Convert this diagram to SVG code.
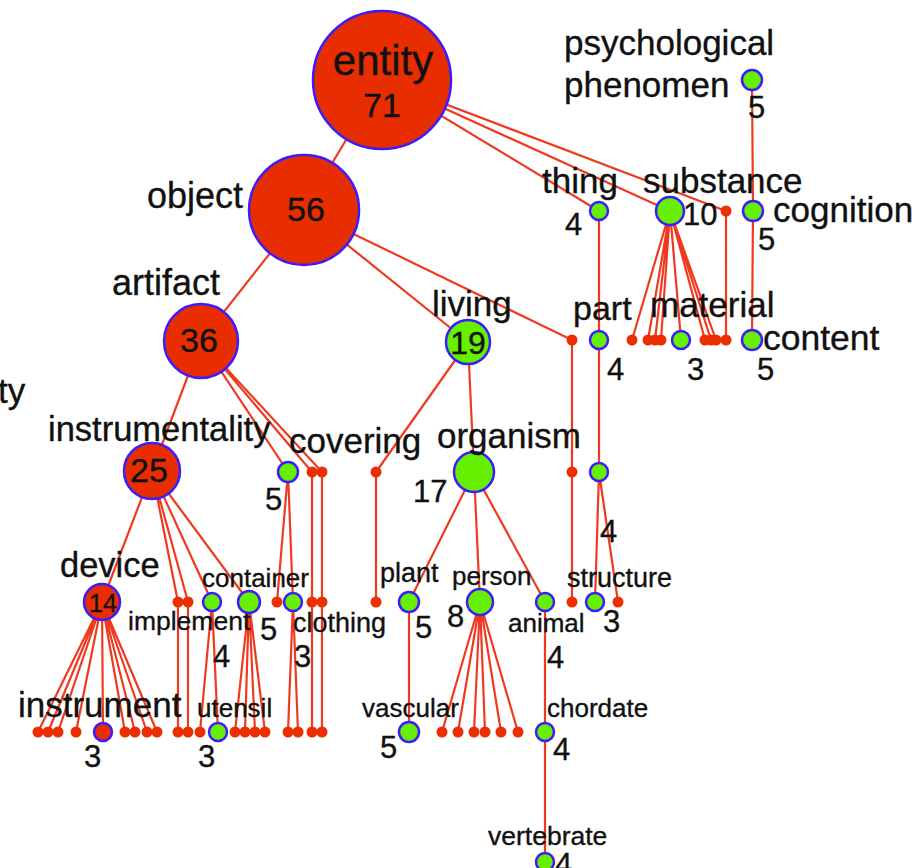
<svg xmlns="http://www.w3.org/2000/svg" width="919" height="868" viewBox="0 0 919 868">
<style>
.e{stroke:#f03a20;stroke-width:2.2;fill:none}
.r{fill:#e82e00;stroke:#3a1cff;stroke-width:2.5}
.g{fill:#66f000;stroke:#3a1cff;stroke-width:2.5}
.d{fill:#ec2f00}
text{font-family:"Liberation Sans",Arial,sans-serif;fill:#111;stroke:#111;stroke-width:0.35}
.c{text-anchor:middle}
</style>
<rect width="919" height="868" fill="#fff"/>
<g id="edges" class="e">
<path d="M382,80L304,210M382,80L599,211M382,80L670,211M382,80L726,211
M304,210L201,341M304,210L468,342M304,210L572,340
M201,341L152,471M201,341L288,472M201,341L312,472M201,341L322,472
M468,342L376,472M468,342L474,472
M474,472L409,602M474,472L480,602M474,472L545,602
M599,211L599,340L599,472M599,472L595,602M599,472L618,602
M572,340L572,602
M670,211L632,340M670,211L648,340M670,211L655,340M670,211L661,340M670,211L681,340M670,211L705,340M670,211L711,340M670,211L716,340
M726,211L726,340
M752,80L753,211L752,340
M376,472L376,602
M152,471L102,602M152,471L178,602M152,471L188,602M152,471L212,602M152,471L249,602
M102,602L38,732M102,602L48,732M102,602L58,732M102,602L76,732M102,602L103,732M102,602L125,732M102,602L135,732M102,602L147,732M102,602L157,732
M178,602L178,732M188,602L188,732
M212,602L200,732M212,602L218,732
M249,602L235,732M249,602L245,732M249,602L255,732M249,602L265,732
M288,472L277,602M288,472L293,602
M312,472L312,732M322,472L322,732
M293,602L288,732M293,602L298,732
M409,602L409,732
M480,602L442,732M480,602L458,732M480,602L474,732M480,602L485,732M480,602L501,732M480,602L518,732
M545,602L545,732L545,862"/>
</g>
<g id="leaf-nodes" class="d">
<circle id="l1" cx="726" cy="211" r="5.5"/>
<circle id="l2" cx="572" cy="340" r="5.5"/>
<circle id="l3" cx="632" cy="340" r="5.5"/>
<circle id="l4" cx="648" cy="340" r="5.5"/>
<circle id="l5" cx="655" cy="340" r="5.5"/>
<circle id="l6" cx="661" cy="340" r="5.5"/>
<circle id="l7" cx="705" cy="340" r="5.5"/>
<circle id="l8" cx="711" cy="340" r="5.5"/>
<circle id="l9" cx="716" cy="340" r="5.5"/>
<circle id="l10" cx="726" cy="340" r="5.5"/>
<circle id="l11" cx="312" cy="472" r="5.5"/>
<circle id="l12" cx="322" cy="472" r="5.5"/>
<circle id="l13" cx="376" cy="472" r="5.5"/>
<circle id="l14" cx="572" cy="472" r="5.5"/>
<circle id="l15" cx="178" cy="602" r="5.5"/>
<circle id="l16" cx="188" cy="602" r="5.5"/>
<circle id="l17" cx="277" cy="602" r="5.5"/>
<circle id="l18" cx="312" cy="602" r="5.5"/>
<circle id="l19" cx="322" cy="602" r="5.5"/>
<circle id="l20" cx="376" cy="602" r="5.5"/>
<circle id="l21" cx="572" cy="602" r="5.5"/>
<circle id="l22" cx="618" cy="602" r="5.5"/>
<circle id="l23" cx="38" cy="732" r="5.5"/>
<circle id="l24" cx="48" cy="732" r="5.5"/>
<circle id="l25" cx="58" cy="732" r="5.5"/>
<circle id="l26" cx="76" cy="732" r="5.5"/>
<circle id="l27" cx="125" cy="732" r="5.5"/>
<circle id="l28" cx="135" cy="732" r="5.5"/>
<circle id="l29" cx="147" cy="732" r="5.5"/>
<circle id="l30" cx="157" cy="732" r="5.5"/>
<circle id="l31" cx="178" cy="732" r="5.5"/>
<circle id="l32" cx="188" cy="732" r="5.5"/>
<circle id="l33" cx="200" cy="732" r="5.5"/>
<circle id="l34" cx="235" cy="732" r="5.5"/>
<circle id="l35" cx="245" cy="732" r="5.5"/>
<circle id="l36" cx="255" cy="732" r="5.5"/>
<circle id="l37" cx="265" cy="732" r="5.5"/>
<circle id="l38" cx="288" cy="732" r="5.5"/>
<circle id="l39" cx="298" cy="732" r="5.5"/>
<circle id="l40" cx="312" cy="732" r="5.5"/>
<circle id="l41" cx="322" cy="732" r="5.5"/>
<circle id="l42" cx="442" cy="732" r="5.5"/>
<circle id="l43" cx="458" cy="732" r="5.5"/>
<circle id="l44" cx="474" cy="732" r="5.5"/>
<circle id="l45" cx="485" cy="732" r="5.5"/>
<circle id="l46" cx="501" cy="732" r="5.5"/>
<circle id="l47" cx="518" cy="732" r="5.5"/>
</g>
<g id="n-entity"><circle class="r" cx="382" cy="80" r="69"/><text class="c" x="383" y="75" font-size="42">entity</text><text class="c" x="382" y="117" font-size="34">71</text></g>
<g id="n-object"><circle class="r" cx="304" cy="210" r="55"/><text x="147" y="208" font-size="36">object</text><text class="c" x="306" y="221" font-size="34">56</text></g>
<g id="n-artifact"><circle class="r" cx="201" cy="341" r="37"/><text x="112" y="295" font-size="36">artifact</text><text class="c" x="199" y="352" font-size="34">36</text></g>
<g id="n-living"><circle class="g" cx="468" cy="342" r="22"/><text x="432" y="316" font-size="35">living</text><text class="c" x="468" y="354" font-size="32">19</text></g>
<g id="n-instrumentality"><circle class="r" cx="152" cy="471" r="28"/><text x="48" y="441" font-size="34.5">instrumentality</text><text class="c" x="149" y="482" font-size="34">25</text></g>
<g id="n-covering"><circle class="g" cx="288" cy="472" r="10"/><text x="289" y="453" font-size="35">covering</text><text x="265" y="510" font-size="31">5</text></g>
<g id="n-organism"><circle class="g" cx="474" cy="472" r="20"/><text x="437" y="448" font-size="35">organism</text><text x="413" y="502" font-size="31">17</text></g>
<g id="n-thing"><circle class="g" cx="599" cy="211" r="9"/><text x="542" y="193" font-size="35">thing</text><text x="565" y="235" font-size="31">4</text></g>
<g id="n-substance"><circle class="g" cx="670" cy="211" r="14"/><text x="643" y="193" font-size="35">substance</text><text x="683" y="225" font-size="31">10</text></g>
<g id="n-cognition"><circle class="g" cx="753" cy="211" r="10"/><text x="773" y="222" font-size="35">cognition</text><text x="758" y="250" font-size="31">5</text></g>
<g id="n-psychological-phenomen"><circle class="g" cx="752" cy="80" r="10"/><text x="564" y="55" font-size="35">psychological</text><text x="564" y="97" font-size="35">phenomen</text><text x="748" y="118" font-size="31">5</text></g>
<g id="n-part"><circle class="g" cx="599" cy="340" r="9"/><text x="573" y="320" font-size="34">part</text><text x="607" y="380" font-size="31">4</text></g>
<g id="n-material"><circle class="g" cx="681" cy="340" r="9"/><text x="650" y="317" font-size="35">material</text><text x="687" y="380" font-size="31">3</text></g>
<g id="n-content"><circle class="g" cx="752" cy="340" r="10"/><text x="763" y="350" font-size="35.5">content</text><text x="757" y="380" font-size="31">5</text></g>
<g id="n-part-child"><circle class="g" cx="599" cy="472" r="9"/><text x="600" y="542" font-size="31">4</text></g>
<g id="n-structure"><circle class="g" cx="595" cy="602" r="9"/><text x="567" y="587" font-size="27">structure</text><text x="603" y="632" font-size="31">3</text></g>
<g id="n-plant"><circle class="g" cx="409" cy="602" r="10"/><text x="380" y="582" font-size="27">plant</text><text x="415" y="638" font-size="31">5</text></g>
<g id="n-person"><circle class="g" cx="480" cy="602" r="13"/><text x="452" y="585" font-size="26">person</text><text x="447" y="627" font-size="31">8</text></g>
<g id="n-animal"><circle class="g" cx="545" cy="602" r="9"/><text x="508" y="632" font-size="26">animal</text><text x="547" y="668" font-size="31">4</text></g>
<g id="n-vascular"><circle class="g" cx="409" cy="732" r="10"/><text x="362" y="717" font-size="26">vascular</text><text x="380" y="758" font-size="31">5</text></g>
<g id="n-chordate"><circle class="g" cx="545" cy="732" r="9"/><text x="547" y="717" font-size="26">chordate</text><text x="553" y="760" font-size="31">4</text></g>
<g id="n-vertebrate"><circle class="g" cx="545" cy="862" r="9"/><text x="488" y="845" font-size="26.5">vertebrate</text><text x="555" y="875" font-size="31">4</text></g>
<g id="n-device"><circle class="r" cx="102" cy="602" r="18"/><text x="60" y="577" font-size="34.5">device</text><text class="c" x="103" y="612" font-size="25">14</text></g>
<g id="n-implement"><circle class="g" cx="212" cy="602" r="9"/><text x="128" y="630" font-size="26.5">implement</text><text x="213" y="667" font-size="31">4</text></g>
<g id="n-container"><circle class="g" cx="249" cy="602" r="11"/><text x="202" y="587" font-size="26">container</text><text x="260" y="640" font-size="31">5</text></g>
<g id="n-clothing"><circle class="g" cx="293" cy="602" r="9"/><text x="293" y="632" font-size="27">clothing</text><text x="294" y="667" font-size="31">3</text></g>
<g id="n-instrument"><circle class="r" cx="103" cy="732" r="9"/><text x="18" y="717" font-size="35">instrument</text><text x="84" y="767" font-size="31">3</text></g>
<g id="n-utensil"><circle class="g" cx="218" cy="732" r="9"/><text x="197" y="717" font-size="26">utensil</text><text x="198" y="767" font-size="31">3</text></g>
<g id="n-cut-label"><text x="-2" y="403" font-size="35">ty</text></g>
</svg>
